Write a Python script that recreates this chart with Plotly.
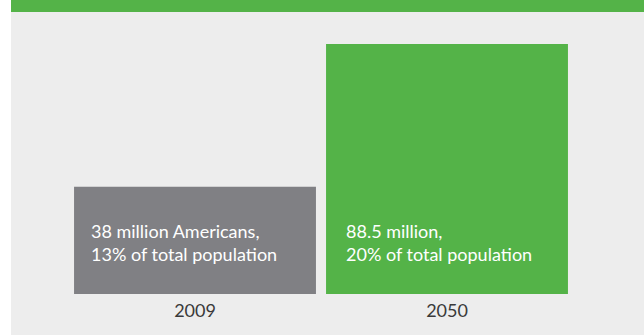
import plotly.graph_objects as go

years = ["2009", "2050"]
seniors_millions = [38, 88.5]
bar_labels = ["38 million Americans,<br>13% of total popula\u200ction",
              "88.5 million,<br>20% of total popula\u200ction"]
bar_colors = ["#808084", "#54b348"]

W, H = 644, 335
L, R, T, B = 69, 71, 44, 41
pw, ph = W - L - R, H - T - B

def px_x(p):
    return (p - L) / pw

def px_y(p):
    return (H - B - p) / ph

pos = list(range(len(years)))

fig = go.Figure()
fig.add_trace(go.Bar(
    x=pos, y=seniors_millions, width=0.96,
    marker=dict(color=bar_colors, line=dict(width=0)),
    hoverinfo="skip",
))

xshifts = [15, 18]
for p, lab, xs in zip(pos, bar_labels, xshifts):
    fig.add_annotation(
        x=p - 0.48, xref="x", y=0, yref="y",
        text=lab, showarrow=False, align="left",
        xanchor="left", yanchor="bottom",
        xshift=xs, yshift=27,
        font=dict(family="Lato", size=18, color="#ffffff"),
    )

fig.update_layout(
    width=W, height=H,
    margin=dict(l=L, r=R, t=T, b=B, pad=0),
    paper_bgcolor="#ffffff",
    plot_bgcolor="rgba(0,0,0,0)",
    showlegend=False,
    xaxis=dict(range=[-0.5, 1.5], tickmode="array", tickvals=pos, ticktext=years,
               showgrid=False, zeroline=False, showline=False, ticks="",
               ticklabelstandoff=4,
               tickfont=dict(family="Lato", size=18, color="#3a3a3a")),
    yaxis=dict(range=[0, 88.5], visible=False),
    shapes=[
        dict(type="rect", xref="paper", yref="paper", layer="below",
             x0=px_x(11), x1=px_x(W), y0=px_y(H), y1=px_y(12),
             fillcolor="#ededed", line=dict(width=0)),
        dict(type="rect", xref="paper", yref="paper", layer="below",
             x0=px_x(11), x1=px_x(W), y0=px_y(12), y1=px_y(0),
             fillcolor="#54b348", line=dict(width=0)),
    ],
)

fig.write_html("out.html")
